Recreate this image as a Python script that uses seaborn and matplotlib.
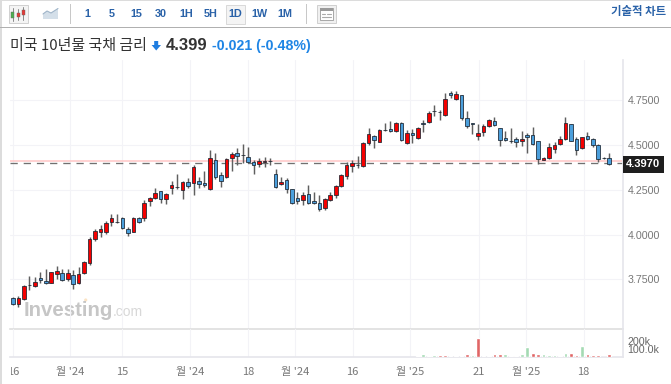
import matplotlib
matplotlib.use("Agg")
import matplotlib.pyplot as plt
import numpy as np
import pandas as pd
import seaborn as sns
from matplotlib.patches import Rectangle, Polygon, Circle
from matplotlib.transforms import Bbox

W, H = 671, 384

opens = [3.645, 3.613, 3.639, 3.718, 3.711, 3.756, 3.741, 3.732, 3.781, 3.788,
         3.751, 3.777, 3.732, 3.785, 3.840, 3.976, 4.016, 4.016, 4.070, 4.072,
         4.095, 4.033, 4.016, 4.091, 4.094, 4.189, 4.206, 4.242, 4.197, 4.260,
         4.268, 4.247, 4.292, 4.286, 4.297, 4.286, 4.253, 4.416, 4.334, 4.320,
         4.427, 4.454, 4.444, 4.431, 4.407, 4.396, 4.403, 4.412, 4.340, 4.281,
         4.305, 4.253, 4.202, 4.191, 4.227, 4.187, 4.178, 4.148, 4.191, 4.223,
         4.270, 4.327, 4.384, 4.391, 4.383, 4.509, 4.550, 4.518, 4.583, 4.589,
         4.578, 4.623, 4.509, 4.565, 4.539, 4.620, 4.628, 4.689, 4.685, 4.667,
         4.792, 4.755, 4.779, 4.649, 4.620, 4.550, 4.574, 4.604, 4.634, 4.593,
         4.541, 4.525, 4.532, 4.521, 4.554, 4.554, 4.521, 4.418, 4.427, 4.479,
         4.506, 4.533, 4.616, 4.535, 4.485, 4.550, 4.532, 4.502, 4.430, 4.427]
closes = [3.613, 3.645, 3.713, 3.716, 3.737, 3.747, 3.732, 3.790, 3.796, 3.745,
          3.785, 3.726, 3.781, 3.845, 3.977, 4.022, 4.030, 4.066, 4.091, 4.070,
          4.035, 4.010, 4.093, 4.069, 4.178, 4.202, 4.234, 4.197, 4.227, 4.275,
          4.266, 4.295, 4.273, 4.379, 4.281, 4.275, 4.427, 4.320, 4.301, 4.422,
          4.448, 4.439, 4.442, 4.407, 4.388, 4.409, 4.412, 4.410, 4.267, 4.292,
          4.256, 4.175, 4.189, 4.221, 4.178, 4.175, 4.143, 4.197, 4.223, 4.270,
          4.331, 4.388, 4.398, 4.389, 4.511, 4.560, 4.526, 4.585, 4.581, 4.576,
          4.623, 4.526, 4.565, 4.554, 4.593, 4.618, 4.677, 4.687, 4.683, 4.755,
          4.781, 4.785, 4.649, 4.604, 4.618, 4.565, 4.604, 4.638, 4.610, 4.526,
          4.528, 4.523, 4.517, 4.535, 4.545, 4.506, 4.420, 4.427, 4.487, 4.498,
          4.532, 4.621, 4.524, 4.470, 4.545, 4.532, 4.502, 4.422, 4.428, 4.394]
highs = [3.653, 3.657, 3.719, 3.769, 3.762, 3.793, 3.806, 3.793, 3.824, 3.806,
         3.806, 3.802, 3.817, 3.852, 3.985, 4.030, 4.054, 4.078, 4.115, 4.115,
         4.098, 4.044, 4.098, 4.098, 4.193, 4.212, 4.258, 4.245, 4.234, 4.299,
         4.338, 4.301, 4.316, 4.388, 4.323, 4.357, 4.472, 4.454, 4.351, 4.427,
         4.461, 4.482, 4.506, 4.491, 4.416, 4.427, 4.435, 4.427, 4.364, 4.320,
         4.316, 4.254, 4.239, 4.239, 4.277, 4.239, 4.221, 4.204, 4.239, 4.277,
         4.338, 4.405, 4.416, 4.439, 4.518, 4.593, 4.556, 4.589, 4.624, 4.634,
         4.628, 4.628, 4.584, 4.588, 4.600, 4.640, 4.691, 4.723, 4.695, 4.788,
         4.801, 4.801, 4.779, 4.691, 4.624, 4.617, 4.617, 4.645, 4.658, 4.595,
         4.580, 4.593, 4.543, 4.580, 4.565, 4.602, 4.522, 4.433, 4.513, 4.518,
         4.550, 4.655, 4.617, 4.546, 4.547, 4.574, 4.539, 4.506, 4.433, 4.457]
lows = [3.607, 3.598, 3.635, 3.691, 3.705, 3.732, 3.725, 3.729, 3.754, 3.739,
        3.743, 3.695, 3.725, 3.780, 3.832, 3.966, 3.985, 4.003, 4.048, 4.064,
        4.029, 3.992, 4.013, 4.063, 4.078, 4.160, 4.200, 4.178, 4.171, 4.227,
        4.253, 4.197, 4.260, 4.221, 4.260, 4.267, 4.250, 4.309, 4.264, 4.316,
        4.357, 4.388, 4.398, 4.400, 4.336, 4.377, 4.379, 4.388, 4.262, 4.277,
        4.232, 4.170, 4.170, 4.165, 4.173, 4.168, 4.132, 4.140, 4.187, 4.204,
        4.266, 4.310, 4.349, 4.372, 4.380, 4.500, 4.482, 4.517, 4.578, 4.573,
        4.573, 4.522, 4.506, 4.513, 4.533, 4.574, 4.624, 4.662, 4.640, 4.662,
        4.761, 4.751, 4.640, 4.593, 4.561, 4.528, 4.553, 4.600, 4.606, 4.494,
        4.522, 4.509, 4.487, 4.494, 4.457, 4.500, 4.394, 4.414, 4.422, 4.454,
        4.500, 4.528, 4.520, 4.444, 4.480, 4.528, 4.491, 4.407, 4.422, 4.387]

# volume only exists for the last sessions
volumes = [10, 38, 22, 25, 25, 25, 22, 22, 10, 38, 25, 245, 22, 10, 38, 38, 38, 15,
           10, 38, 125, 48, 40, 38, 25, 32, 15, 48, 52, 28, 137, 38, 25, 25, 0, 38]
volume_sides = ["g", "g", "g", "g", "r", "r", "g", "g", "r", "r", "g", "r", "g", "g",
                "r", "r", "g", "g", "r", "g", "g", "r", "r", "g", "g", "g", "g", "g",
                "r", "r", "g", "r", "r", "r", "r", "r"]

price_ticks = [3.75, 4.0, 4.25, 4.5, 4.75]
date_ticks = [0, 10.4, 19.9, 32.4, 43, 51.6, 62.1, 72.6, 85.2, 93.8, 104.3]
date_labels = ["16", "월 '24", "15", "월 '24", "18", "월 '24", "16", "월 '25", "21", "월 '25", "18"]
last_price = 4.397
ref_price = 4.413
intervals = ["1", "5", "15", "30", "1H", "5H", "1D", "1W", "1M"]

sns.set_theme(style="white")
plt.rcParams["font.family"] = ["Liberation Sans", "Noto Sans CJK KR", "DejaVu Sans"]

KR = ["Noto Sans CJK KR", "DejaVu Sans"]
UP, DOWN = "#f50000", "#4b9fdc"
GRID = "#f3f3f7"
LINE = "#e6e6ec"
NAVY = "#2a62a8"

df = pd.DataFrame({"session": np.arange(len(closes)), "open": opens, "high": highs,
                   "low": lows, "close": closes})
df["body_low"] = df[["open", "close"]].min(axis=1)
df["body_h"] = (df["close"] - df["open"]).abs()
df["color"] = np.where(df["close"] >= df["open"], UP, DOWN)
vol_df = pd.DataFrame({"session": df["session"].values[-len(volumes):], "volume": volumes,
                       "side": volume_sides})

fig = plt.figure(figsize=(W / 100, H / 100), dpi=100, facecolor="white")

# page chrome, in pixels
bg = fig.add_axes([0, 0, 1, 1], zorder=0)
bg.set_xlim(0, W)
bg.set_ylim(H, 0)
bg.axis("off")
bg.add_patch(Rectangle((0, 0), 1.5, H, color="#dcdcdc", lw=0))
bg.add_patch(Rectangle((0, 0), W, 1.2, color="#dcdcdc", lw=0))
bg.add_patch(Rectangle((0, 26.6), W, 1, color="#b0b0b0", lw=0))
bg.add_patch(Rectangle((70, 4), 0.8, 20, color="#c8c8c8", lw=0))
bg.add_patch(Rectangle((306, 4), 0.8, 20, color="#c8c8c8", lw=0))

# candle button
bg.add_patch(Rectangle((8.5, 5), 19, 18, fc="#f4f4f4", ec="#d0d0d0", lw=0.7))
for x, y0, y1, y2, y3, c in [(12.7, 8, 12, 18, 21, "#4caf50"), (18, 9, 13, 17, 20, "#e53935"),
                             (23.3, 7, 10, 15, 20, "#e53935")]:
    bg.plot([x, x], [y0, y3], color="#888888", lw=0.7)
    bg.add_patch(Rectangle((x - 1.5, y1), 3, y2 - y1, fc=c, ec="#666666", lw=0.3, zorder=3))
# area button
bg.add_patch(Polygon([(43, 19), (43, 14), (47, 11), (51, 13), (58, 8.5), (58, 19)], fc="#d4dfe9", ec="none"))
bg.plot([43, 47, 51, 58], [14, 11, 13, 8.5], color="#9fb4c8", lw=0.8)

interval_x = [87, 111.5, 136.5, 161, 186, 210.5, 235, 259.5, 284.5]
bg.add_patch(Rectangle((226.3, 4.5), 18.5, 19, fc="#f4f4f4", ec="#d8d8d8", lw=0.7))
for x, label in zip(interval_x, intervals):
    bg.text(x, 13.6, label, ha="center", va="center", color=NAVY, fontsize=7.8, fontweight="bold")

# layout button
bg.add_patch(Rectangle((317, 5), 18.5, 18, fc="#f0f0f0", ec="#cfcfcf", lw=0.7))
bg.add_patch(Rectangle((320, 8), 12.5, 12, fc="#ffffff", ec="#9a9a9a", lw=0.6))
bg.add_patch(Rectangle((320, 8), 12.5, 3, fc="#9a9a9a", ec="none"))
bg.plot([322, 325], [14, 14], color="#aaaaaa", lw=0.8)
bg.plot([327, 331], [14, 14], color="#aaaaaa", lw=0.8)
bg.plot([322, 331], [17, 17], color="#aaaaaa", lw=0.8)

bg.text(666, 12, "기술적 차트", ha="right", va="center", color=NAVY, fontsize=8.2, fontweight="bold", family=KR)
bg.text(10.5, 45.8, "미국 10년물 국채 금리", ha="left", va="center", color="#333333", fontsize=10.8, family=KR)
bg.add_patch(Polygon([(154.2, 41), (158.2, 41), (158.2, 45), (161, 45), (156.2, 50.5), (151.6, 45), (154.2, 45)],
                     fc="#1f7de0", ec="none"))
bg.text(166, 46, "4.399", ha="left", va="center", color="#333333", fontsize=11.9, fontweight="bold")
bg.text(212.5, 46, "-0.021 (-0.48%)", ha="left", va="center", color="#1f85e5", fontsize=10.2, fontweight="bold")

bg.text(23.5, 315.7, "Investing", ha="left", va="baseline", color="#c6c6c6", fontsize=14.7, fontweight="bold")
bg.text(113, 315.7, ".com", ha="left", va="baseline", color="#d8d8d8", fontsize=10)
bg.add_patch(Circle((85.7, 300), 1.6, fc="#fbe3c4", ec="none"))

# chart panes
left, right = 10, 622.7
top, split, bottom = 60, 329.4, 357.3
ax = fig.add_axes([left / W, 1 - split / H, (right - left) / W, (split - top) / H], zorder=2, facecolor="none")
vol_ax = fig.add_axes([left / W, 1 - bottom / H, (right - left) / W, (bottom - split) / H], zorder=2, facecolor="none")

ax.vlines(df["session"], df["low"], df["high"], color="#5f5f5f", lw=1.05, zorder=3)
ax.bar(df["session"], df["body_h"], bottom=df["body_low"], width=0.66, color=df["color"],
       edgecolor="#1a2430", linewidth=0.55, zorder=4)
ax.axhline(ref_price, color="#ffc6c6", lw=1.1, zorder=2)
ax.axhline(last_price, color="#707070", lw=0.95, dashes=(5.5, 4.5), zorder=2)

sns.barplot(data=vol_df, x="session", y="volume", hue="side", native_scale=True, dodge=False,
            palette={"g": "#a4dab3", "r": "#e06666"}, saturation=1, width=0.68, legend=False, ax=vol_ax, zorder=3)

ax.set_xlim(-0.548, 111.46)
vol_ax.set_xlim(-0.548, 111.46)
ax.set_ylim(4.5 + (145 - split) / 179.2, 4.5 + (145 - top) / 179.2)
vol_ax.set_ylim(0, 347)

ax.yaxis.tick_right()
ax.set_yticks(price_ticks)
ax.set_yticklabels([f"{v:.4f}" for v in price_ticks])
ax.set_xticks(date_ticks)
ax.set_xticklabels([])
ax.tick_params(axis="y", length=0, pad=3.5, labelsize=7.7, labelcolor="#777777")
ax.tick_params(axis="x", length=0)
ax.grid(True, color=GRID, lw=0.8, zorder=0)
ax.set_xlabel("")
ax.set_ylabel("")

vol_ax.yaxis.tick_right()
vol_ax.set_yticks([100, 200])
vol_ax.set_yticklabels(["100.0k", "200k"])
vol_ax.set_xticks(date_ticks)
vol_ax.set_xticklabels(date_labels, family=KR)
vol_ax.tick_params(axis="y", length=0, pad=3.5, labelsize=7.7, labelcolor="#666666")
vol_ax.tick_params(axis="x", length=3.6, width=0.7, color=LINE, pad=3.5, labelsize=8, labelcolor="#777777")
vol_ax.grid(True, axis="x", color=GRID, lw=0.8, zorder=0)
vol_ax.set_xlabel("")
vol_ax.set_ylabel("")

for s in ax.spines.values():
    s.set_visible(False)
ax.spines["right"].set_visible(True)
ax.spines["right"].set_color(LINE)
ax.spines["bottom"].set_visible(True)
ax.spines["bottom"].set_color("#dedede")
ax.spines["bottom"].set_linewidth(1.2)
for s in vol_ax.spines.values():
    s.set_visible(False)
vol_ax.spines["right"].set_visible(True)
vol_ax.spines["right"].set_color(LINE)
vol_ax.spines["bottom"].set_visible(True)
vol_ax.spines["bottom"].set_color(LINE)
vol_ax.spines["bottom"].set_zorder(1)

# first label sits on the left edge of the pane and gets cut
first = vol_ax.get_xticklabels()[0]
first.set_clip_on(True)
first.set_clip_box(Bbox([[left + 0.5, 0], [W, H]]))

ax.annotate(f"{last_price:.4f}", xy=(1, last_price), xycoords=ax.get_yaxis_transform(),
            xytext=(2.5, -0.6), textcoords="offset points", ha="left", va="center", color="white",
            fontsize=8, fontweight="bold", annotation_clip=False, zorder=6,
            bbox=dict(boxstyle="square,pad=0.3", fc="#1e1e1e", ec="none"))

fig.savefig("out.png", dpi=100)
